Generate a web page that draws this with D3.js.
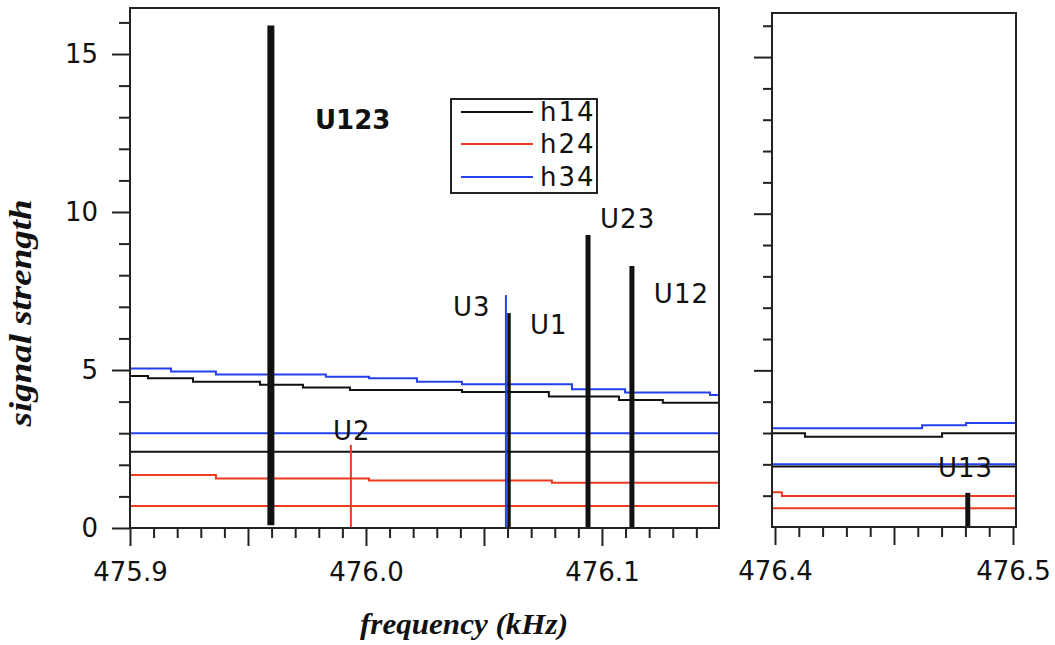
<!DOCTYPE html>
<html>
<head>
<meta charset="utf-8">
<script src="https://cdn.jsdelivr.net/npm/d3@7"></script>
<style>
  body { margin: 0; background: #fff; }
  svg { display: block; }
  .tick text { font-family: "DejaVu Sans", sans-serif; font-size: 26px; fill: #111; }
  .lbl { font-family: "DejaVu Sans", sans-serif; font-size: 26px; fill: #111; }
  .ttl { font-family: "Liberation Serif", serif; font-style: italic; font-weight: bold; fill: #111; }
</style>
</head>
<body>
<svg id="chart" width="1055" height="645"></svg>
<script>
// ── 데이터 ─────────────────────────────────────────
// 계단형 선: [주파수 kHz, 신호세기] — 각 점에서 다음 점까지 수평
const h14Left  = [[475.9,4.81],[475.9076,4.74],[475.9267,4.63],[475.9551,4.53],[475.9733,4.45],
                  [475.9932,4.37],[476.0407,4.30],[476.0775,4.16],[476.1072,4.05],[476.1258,3.96]];
const h14LeftLow = [[475.9,2.41]];
const h24Left  = [[475.9,1.68],[475.9364,1.57],[476.0013,1.50],[476.0788,1.43]];
const h24LeftLow = [[475.9,0.70]];
const h34Left  = [[475.9,5.05],[475.9174,4.95],[475.9364,4.86],[475.983,4.79],[476.0013,4.74],
                  [476.0216,4.63],[476.0407,4.55],[476.0873,4.39],[476.1098,4.29],[476.1458,4.21]];
const h34LeftLow = [[475.9,3.0]];

const h14Right = [[476.3987,2.99],[476.4126,2.88],[476.4702,2.99]];
const h14RightLow = [[476.3987,1.93]];
const h24Right = [[476.3987,1.11],[476.4029,0.99]];
const h24RightLow = [[476.3987,0.60]];
const h34Right = [[476.3987,3.15],[476.4618,3.25],[476.4803,3.32]];
const h34RightLow = [[476.3987,2.0]];

// 피크(세로 막대): 이름, 주파수, 아래/위 값, 계열
const peakNames  = ["U123","U2","U3","U1","U23","U12","U13"];
const peakFreq   = [475.9597,475.9936,476.0593,476.0606,476.0941,476.1127,476.481];
const peakLow    = [0.09,0,0,0,0,0,0];
const peakHigh   = [15.9,2.63,7.37,6.8,9.27,8.29,1.09];
const peakSeries = ["h14","h24","h34","h14","h14","h14","h14"];
const peakPanel  = ["L","L","L","L","L","L","R"];
const peakWidth  = [7,2,2,3.5,5,5,5];

// 피크 라벨 위치 (데이터 좌표: 시작 주파수, 기준선 값)
const labelFreq  = [475.9784,475.986,476.0369,476.0695,476.0992,476.122,476.4685];
const labelVal   = [12.63,2.78,6.71,6.14,9.49,7.12,1.6];

const legendNames = ["h14","h24","h34"];
const COLOR = { h14:"#111", h24:"#ee3a1e", h34:"#2440ee" };

// ── 패널 설정 ─────────────────────────────────────────────
const svg = d3.select("#chart");

const xL = d3.scaleLinear().domain([475.9, 476.1496]).range([130, 719]);
const yL = d3.scaleLinear().domain([0, 16.456]).range([528, 8]);
const xR = d3.scaleLinear().domain([476.39874, 476.50126]).range([772, 1016]);
const yR = d3.scaleLinear().domain([0, 16.406]).range([527, 13]);

const stepLine = (x, y) => d3.line().x(d => x(d[0])).y(d => y(d[1])).curve(d3.curveStepAfter);

function panel(x, y, opts) {
  const [x0, x1] = x.range(), [y0, y1] = y.range();
  const g = svg.append("g");

  // 계단형 수평선 (도메인 끝까지 연장)
  opts.series.forEach(s => {
    const pts = s.data.concat([[x.domain()[1], s.data[s.data.length - 1][1]]]);
    g.append("path").attr("d", stepLine(x, y)(pts))
      .attr("fill", "none").attr("stroke", COLOR[s.key]).attr("stroke-width", 2);
  });

  // 세로 막대
  peakNames.forEach((n, i) => {
    if (peakPanel[i] !== opts.id) return;
    g.append("line")
      .attr("x1", x(peakFreq[i])).attr("x2", x(peakFreq[i]))
      .attr("y1", y(peakLow[i])).attr("y2", y(peakHigh[i]))
      .attr("stroke", COLOR[peakSeries[i]]).attr("stroke-width", peakWidth[i]);
    g.append("text").attr("class", "lbl")
      .attr("x", x(labelFreq[i])).attr("y", y(labelVal[i]))
      .attr("font-weight", n === "U123" ? "bold" : null)
      .attr("font-size", n === "U123" ? 28 : null)
      .attr("letter-spacing", n === "U123" ? 0 : 1)
      .text(n);
  });

  // 테두리
  g.append("rect").attr("x", x0).attr("y", y1).attr("width", x1 - x0).attr("height", y0 - y1)
    .attr("fill", "none").attr("stroke", "#222").attr("stroke-width", 2);

  // y축: 주 눈금 / 보조 눈금
  const yMajor = d3.range(0, 17).filter(v => v % 5 === 0 && v >= opts.yMin);
  const yMinor = d3.range(opts.yMin, 17).filter(v => v % 5 !== 0);
  const ya = g.append("g").attr("transform", `translate(${x0},0)`);
  ya.append("g").call(d3.axisLeft(y).tickValues(yMajor).tickSize(18).tickPadding(14)
    .tickFormat(opts.yLabels ? d3.format("d") : ""));
  ya.append("g").call(d3.axisLeft(y).tickValues(yMinor).tickSize(opts.yLabels ? 11 : 9).tickFormat(""));

  // x축
  const xa = g.append("g").attr("transform", `translate(0,${y0})`);
  xa.append("g").call(d3.axisBottom(x).tickValues(opts.xMajor).tickSize(18).tickPadding(17)
    .tickFormat(v => opts.xLabels.includes(v) ? d3.format(".1f")(v) : ""));
  xa.append("g").call(d3.axisBottom(x).tickValues(opts.xMinor).tickSize(10).tickFormat(""));

  g.selectAll(".domain").remove();
  g.selectAll(".tick line").attr("stroke", "#222").attr("stroke-width", 2);
  return g;
}

const minorL = d3.range(1, 25).map(i => +(475.9 + i * 0.01).toFixed(2)).filter(v => Math.round(v * 100) % 5 !== 0);
const minorR = d3.range(1, 10).map(i => +(476.4 + i * 0.01).toFixed(2)).filter(v => Math.round(v * 100) % 5 !== 0);

panel(xL, yL, {
  id: "L", yMin: 0, yLabels: true,
  xMajor: [475.9, 475.95, 476.0, 476.05, 476.1], xLabels: [475.9, 476.0, 476.1], xMinor: minorL,
  series: [
    { key: "h34", data: h34Left }, { key: "h14", data: h14Left },
    { key: "h34", data: h34LeftLow }, { key: "h14", data: h14LeftLow },
    { key: "h24", data: h24Left }, { key: "h24", data: h24LeftLow }
  ]
});

panel(xR, yR, {
  id: "R", yMin: 1, yLabels: false,
  xMajor: [476.4, 476.45, 476.5], xLabels: [476.4, 476.5], xMinor: minorR,
  series: [
    { key: "h34", data: h34Right }, { key: "h14", data: h14Right },
    { key: "h34", data: h34RightLow }, { key: "h14", data: h14RightLow },
    { key: "h24", data: h24Right }, { key: "h24", data: h24RightLow }
  ]
});

// 범례
const lg = svg.append("g");
lg.append("rect").attr("x", 451).attr("y", 99).attr("width", 146).attr("height", 94)
  .attr("fill", "#fff").attr("stroke", "#222").attr("stroke-width", 2);
legendNames.forEach((n, i) => {
  const yy = [112, 144, 177][i];
  lg.append("line").attr("x1", 461).attr("x2", 533).attr("y1", yy).attr("y2", yy)
    .attr("stroke", COLOR[n]).attr("stroke-width", 2);
  lg.append("text").attr("class", "lbl").attr("x", 540).attr("y", yy)
    .attr("dominant-baseline", "central").attr("letter-spacing", 2).text(n);
});

// 축 제목
svg.append("text").attr("class", "ttl")
  .attr("transform", "translate(31,313) rotate(-90)")
  .attr("text-anchor", "middle").attr("font-size", 32)
  .attr("textLength", 227).attr("lengthAdjust", "spacingAndGlyphs")
  .text("signal strength");
svg.append("text").attr("class", "ttl")
  .attr("x", 464).attr("y", 634)
  .attr("text-anchor", "middle").attr("font-size", 30)
  .attr("textLength", 208).attr("lengthAdjust", "spacingAndGlyphs")
  .text("frequency (kHz)");
</script>
</body>
</html>
